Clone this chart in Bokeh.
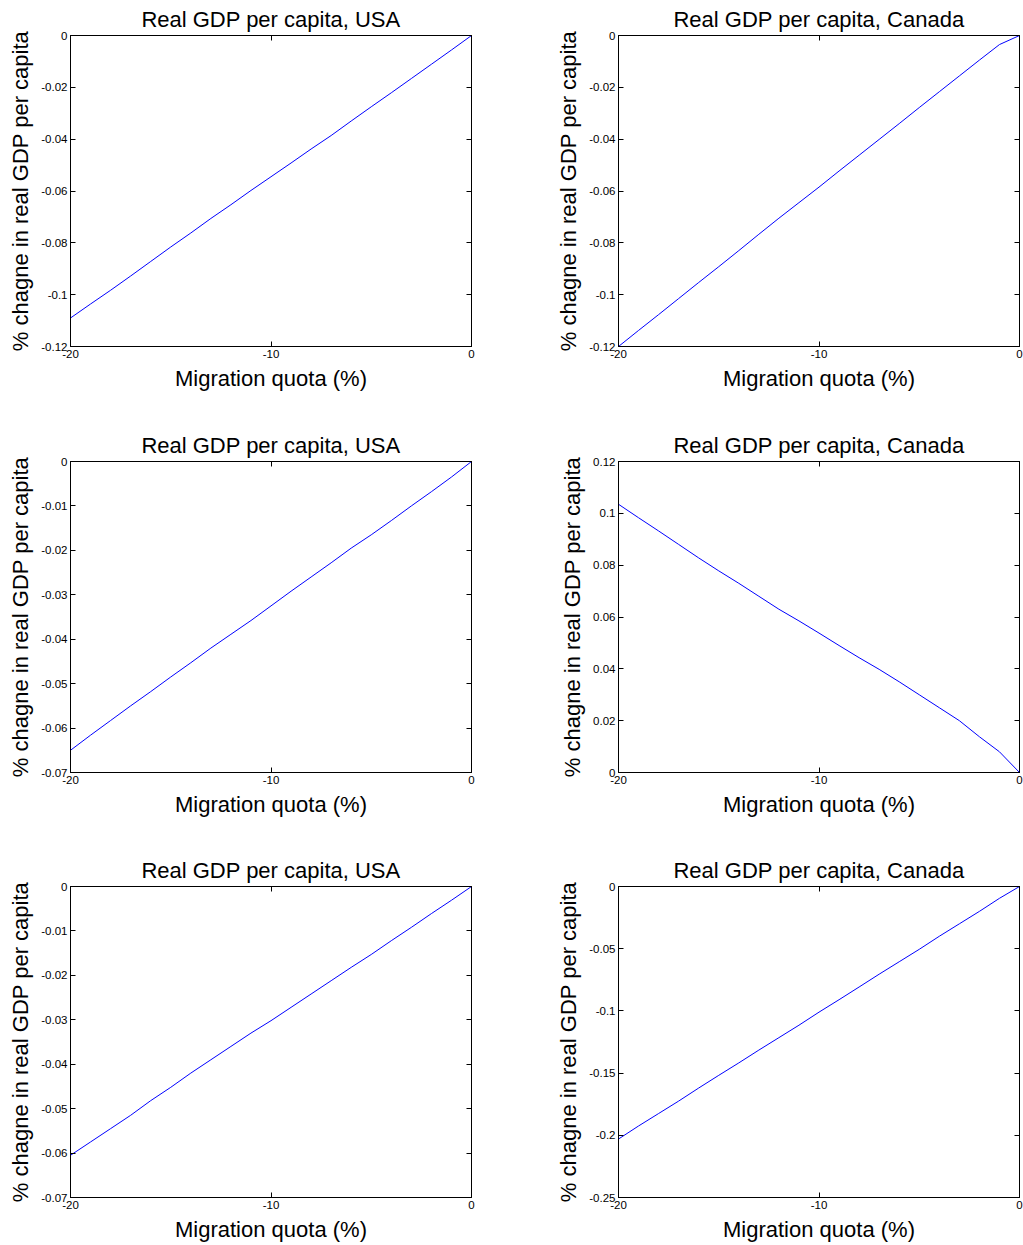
from bokeh.plotting import figure
from bokeh.layouts import column, row
from bokeh.models import FixedTicker, LinearAxis, Range1d
from bokeh.embed import file_html
from bokeh.resources import INLINE

# Migration quota (%) on the horizontal axis
quota = [-20, -19, -18, -17, -16, -15, -14, -13, -12, -11, -10,
         -9, -8, -7, -6, -5, -4, -3, -2, -1, 0]

# % change in real GDP per capita, one series per panel
usa_1 = [-0.1090, -0.1036, -0.0983, -0.0928, -0.0872, -0.0816, -0.0762, -0.0706,
         -0.0653, -0.0598, -0.0545, -0.0492, -0.0438, -0.0386, -0.0330, -0.0275,
         -0.0221, -0.0166, -0.0111, -0.0056, 0.0]
can_1 = [-0.1200, -0.1138, -0.1077, -0.1015, -0.0953, -0.0892, -0.0830, -0.0767,
         -0.0705, -0.0645, -0.0585, -0.0523, -0.0462, -0.0401, -0.0340, -0.0278,
         -0.0217, -0.0156, -0.0095, -0.0035, 0.0]
usa_2 = [-0.0650, -0.0616, -0.0583, -0.0550, -0.0518, -0.0485, -0.0453, -0.0420,
         -0.0389, -0.0358, -0.0325, -0.0292, -0.0260, -0.0228, -0.0195, -0.0165,
         -0.0133, -0.0100, -0.0068, -0.0035, 0.0]
can_2 = [0.1035, 0.0983, 0.0932, 0.0880, 0.0828, 0.0778, 0.0730, 0.0680,
         0.0630, 0.0585, 0.0538, 0.0490, 0.0443, 0.0398, 0.0350, 0.0300,
         0.0250, 0.0200, 0.0138, 0.0080, 0.0]
usa_3 = [-0.0605, -0.0575, -0.0545, -0.0515, -0.0482, -0.0452, -0.0420, -0.0390,
         -0.0360, -0.0330, -0.0302, -0.0272, -0.0242, -0.0212, -0.0182, -0.0153,
         -0.0122, -0.0092, -0.0061, -0.0031, 0.0]
can_3 = [-0.2030, -0.1925, -0.1825, -0.1725, -0.1620, -0.1518, -0.1418, -0.1315,
         -0.1215, -0.1115, -0.1010, -0.0910, -0.0808, -0.0705, -0.0605, -0.0505,
         -0.0400, -0.0300, -0.0200, -0.0095, 0.0]

# Tick positions and their printed labels
x_ticks = [-20, -10, 0]
x_labels = ["-20", "-10", "0"]
y_ticks_1a = [-0.12, -0.1, -0.08, -0.06, -0.04, -0.02, 0]
y_labels_1a = ["-0.12", "-0.1", "-0.08", "-0.06", "-0.04", "-0.02", "0"]
y_ticks_2a = [-0.07, -0.06, -0.05, -0.04, -0.03, -0.02, -0.01, 0]
y_labels_2a = ["-0.07", "-0.06", "-0.05", "-0.04", "-0.03", "-0.02", "-0.01", "0"]
y_ticks_2b = [0, 0.02, 0.04, 0.06, 0.08, 0.1, 0.12]
y_labels_2b = ["0", "0.02", "0.04", "0.06", "0.08", "0.1", "0.12"]
y_ticks_3b = [-0.25, -0.2, -0.15, -0.1, -0.05, 0]
y_labels_3b = ["-0.25", "-0.2", "-0.15", "-0.1", "-0.05", "0"]

TITLE_USA = "Real GDP per capita, USA"
TITLE_CAN = "Real GDP per capita, Canada"
XLABEL = "Migration quota (%)"
YLABEL = "% chagne in real GDP per capita"

FONT = "Liberation Sans"


def panel(title, y, yticks, ylabels, yr, w, h, left, right, top, bottom):
    p = figure(width=w, height=h, output_backend="svg", toolbar_location=None,
               x_range=Range1d(-20, 0), y_range=Range1d(*yr),
               min_border_left=left, min_border_right=right,
               min_border_top=top, min_border_bottom=bottom)
    p.title.text = title
    p.title.align = "center"
    p.title.text_font = FONT
    p.title.text_font_size = "22px"
    p.title.text_font_style = "normal"
    p.title.text_color = "black"
    p.title.standoff = 8
    p.grid.visible = False
    p.outline_line_color = "black"
    p.outline_line_width = 1
    p.outline_line_alpha = 1
    p.background_fill_color = "white"
    p.border_fill_color = "white"

    xt = FixedTicker(ticks=x_ticks, minor_ticks=[])
    yt = FixedTicker(ticks=yticks, minor_ticks=[])
    xo = dict(zip(x_ticks, x_labels))
    yo = dict(zip(yticks, ylabels))

    for ax, tk, ov in ((p.xaxis[0], xt, xo), (p.yaxis[0], yt, yo)):
        ax.ticker = tk
        ax.major_label_overrides = ov
        ax.major_tick_in = 5
        ax.major_tick_out = 0
        ax.minor_tick_in = 0
        ax.minor_tick_out = 0
        ax.axis_line_color = "black"
        ax.major_tick_line_color = "black"
        ax.major_label_text_font = FONT
        ax.major_label_text_font_size = "11.5px"
        ax.major_label_text_color = "black"
        ax.major_label_standoff = 3
        ax.axis_label_text_font = FONT
        ax.axis_label_text_font_size = "22px"
        ax.axis_label_text_font_style = "normal"
        ax.axis_label_text_color = "black"
        ax.axis_label_standoff = 5
    p.xaxis[0].axis_label = XLABEL
    p.yaxis[0].axis_label = YLABEL

    # mirrored ticks on the top and right edges of the box
    for loc, tk in (("above", xt), ("right", yt)):
        ax = LinearAxis(ticker=tk, major_tick_in=5, major_tick_out=0,
                        minor_tick_in=0, minor_tick_out=0,
                        major_label_text_font_size="0px",
                        major_label_text_color=None,
                        major_label_standoff=0,
                        axis_line_color="black", major_tick_line_color="black")
        p.add_layout(ax, loc)

    p.line(quota, y, line_color="#0000ff", line_width=1)
    return p


LW, RW = 511, 512
H1, H2, H3 = 425, 425, 395

p1 = panel(TITLE_USA, usa_1, y_ticks_1a, y_labels_1a, (-0.12, 0), LW, H1, 70, 40, 35, 79)
p2 = panel(TITLE_CAN, can_1, y_ticks_1a, y_labels_1a, (-0.12, 0), RW, H1, 107, 4, 35, 79)
p3 = panel(TITLE_USA, usa_2, y_ticks_2a, y_labels_2a, (-0.07, 0), LW, H2, 70, 40, 36, 78)
p4 = panel(TITLE_CAN, can_2, y_ticks_2b, y_labels_2b, (0, 0.12), RW, H2, 107, 4, 36, 78)
p5 = panel(TITLE_USA, usa_3, y_ticks_2a, y_labels_2a, (-0.07, 0), LW, H3, 70, 40, 36, 48)
p6 = panel(TITLE_CAN, can_3, y_ticks_3b, y_labels_3b, (-0.25, 0), RW, H3, 107, 4, 36, 48)

layout = column(row(p1, p2, spacing=0), row(p3, p4, spacing=0),
                row(p5, p6, spacing=0), spacing=0)

open("out.html", "w").write(file_html(layout, INLINE))
